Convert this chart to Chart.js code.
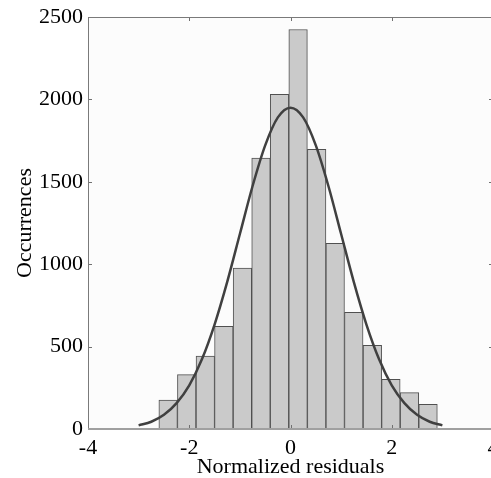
<!DOCTYPE html>
<html>
<head>
<meta charset="utf-8">
<script src="https://cdn.jsdelivr.net/npm/chart.js@4.4.1/dist/chart.umd.min.js"></script>
<style>
  html, body { margin: 0; padding: 0; background: #ffffff; overflow: hidden; }
  #wrap { position: absolute; left: 0; top: 0; width: 500px; height: 478px; }
</style>
</head>
<body>
<div id="wrap"><canvas id="c" width="500" height="478"></canvas></div>
<script>
// Histogram bin centres (normalized residuals) and counts
const binCenters = [-2.417, -2.050, -1.683, -1.317, -0.950, -0.583, -0.217, 0.150, 0.517, 0.883, 1.250, 1.617, 1.983, 2.350, 2.717];
const binCounts  = [175, 330, 443, 623, 977, 1644, 2031, 2424, 1697, 1127, 708, 508, 302, 221, 149];

// Fitted normal curve
const fitX = [-3, -2.75, -2.5, -2.25, -2, -1.75, -1.5, -1.25, -1, -0.75, -0.5, -0.25, 0, 0.25, 0.5, 0.75, 1, 1.25, 1.5, 1.75, 2, 2.25, 2.5, 2.75, 3];
const fitY = [22, 44, 86, 157, 265, 423, 634, 893, 1183, 1473, 1721, 1891, 1950, 1891, 1721, 1473, 1183, 893, 634, 423, 265, 157, 86, 44, 22];

// Axis ticks
const xTicks = [-4, -2, 0, 2, 4];
const yTicks = [0, 500, 1000, 1500, 2000, 2500];

const barPoints = binCenters.map((x, i) => ({ x: x, y: binCounts[i] }));
const fitPoints = fitX.map((x, i) => ({ x: x, y: fitY[i] }));

const FONT = { family: '"Liberation Serif", "Times New Roman", serif', size: 22 };

const boxPlugin = {
  id: 'box',
  beforeDatasetsDraw(chart) {
    const { ctx, chartArea: a } = chart;
    ctx.save();
    ctx.fillStyle = '#fcfcfc';
    ctx.fillRect(a.left, a.top, a.right - a.left, a.bottom - a.top);
    ctx.restore();
  },
  afterDatasetsDraw(chart) {
    const { ctx, chartArea: a, scales } = chart;
    const xs = scales.x, ys = scales.y;
    ctx.save();
    ctx.strokeStyle = '#707070';
    ctx.lineWidth = 1;
    const tl = 4;
    ctx.beginPath();
    xTicks.forEach(v => {
      const px = Math.round(xs.getPixelForValue(v)) + 0.5;
      ctx.moveTo(px, a.top); ctx.lineTo(px, a.top + tl);
      ctx.moveTo(px, a.bottom); ctx.lineTo(px, a.bottom - tl);
    });
    yTicks.forEach(v => {
      const py = Math.round(ys.getPixelForValue(v)) + 0.5;
      ctx.moveTo(a.left, py); ctx.lineTo(a.left + tl, py);
      ctx.moveTo(a.right, py); ctx.lineTo(a.right - tl, py);
    });
    ctx.stroke();
    ctx.strokeStyle = '#7a7a7a';
    ctx.lineWidth = 1;
    ctx.beginPath();
    ctx.moveTo(a.left + 0.5, a.bottom);
    ctx.lineTo(a.left + 0.5, a.top + 0.5);
    ctx.lineTo(a.right - 0.5, a.top + 0.5);
    ctx.lineTo(a.right - 0.5, a.bottom);
    ctx.stroke();
    ctx.strokeStyle = '#a0a0a0';
    ctx.lineWidth = 2;
    ctx.beginPath();
    ctx.moveTo(a.left, a.bottom);
    ctx.lineTo(a.right, a.bottom);
    ctx.stroke();
    ctx.restore();
  }
};

new Chart(document.getElementById('c'), {
  type: 'bar',
  data: {
    datasets: [
      {
        type: 'line',
        data: fitPoints,
        borderColor: '#404040',
        borderWidth: 2.5,
        pointRadius: 0,
        cubicInterpolationMode: 'monotone',
        fill: false,
        order: 0
      },
      {
        type: 'bar',
        data: barPoints,
        backgroundColor: '#cacaca',
        borderColor: '#505050',
        borderWidth: 1,
        borderSkipped: false,
        barPercentage: 1,
        categoryPercentage: 1,
        order: 1
      }
    ]
  },
  options: {
    responsive: false,
    animation: false,
    devicePixelRatio: 1,
    layout: { padding: { top: 17, right: 7, left: 0, bottom: 0 } },
    plugins: { legend: { display: false }, tooltip: { enabled: false } },
    scales: {
      x: {
        type: 'linear',
        offset: false,
        min: -4, max: 4,
        afterBuildTicks(scale) { scale.ticks = xTicks.map(v => ({ value: v })); },
        afterFit(scale) { scale.height = 49; scale.paddingLeft = 0; scale.paddingRight = 0; },
        grid: { display: false, drawTicks: false, offset: false },
        border: { display: false },
        ticks: { font: FONT, color: '#000', padding: 6, maxRotation: 0, autoSkip: false,
                 callback: v => String(v) },
        title: { display: true, text: 'Normalized residuals',
                 font: { family: FONT.family, size: 22, lineHeight: 1.0 }, color: '#000',
                 padding: { top: 0, bottom: 0 } }
      },
      y: {
        min: 0, max: 2500,
        afterBuildTicks(scale) { scale.ticks = yTicks.map(v => ({ value: v })); },
        afterFit(scale) { scale.width = 88; scale.paddingTop = 0; scale.paddingBottom = 0; },
        grid: { display: false, drawTicks: false },
        border: { display: false },
        ticks: { font: FONT, color: '#000', padding: 5, callback: v => String(v) },
        title: { display: true, text: 'Occurrences', font: FONT, color: '#000',
                 padding: { top: 12, bottom: 0 } }
      }
    }
  },
  plugins: [boxPlugin]
});
</script>
</body>
</html>
